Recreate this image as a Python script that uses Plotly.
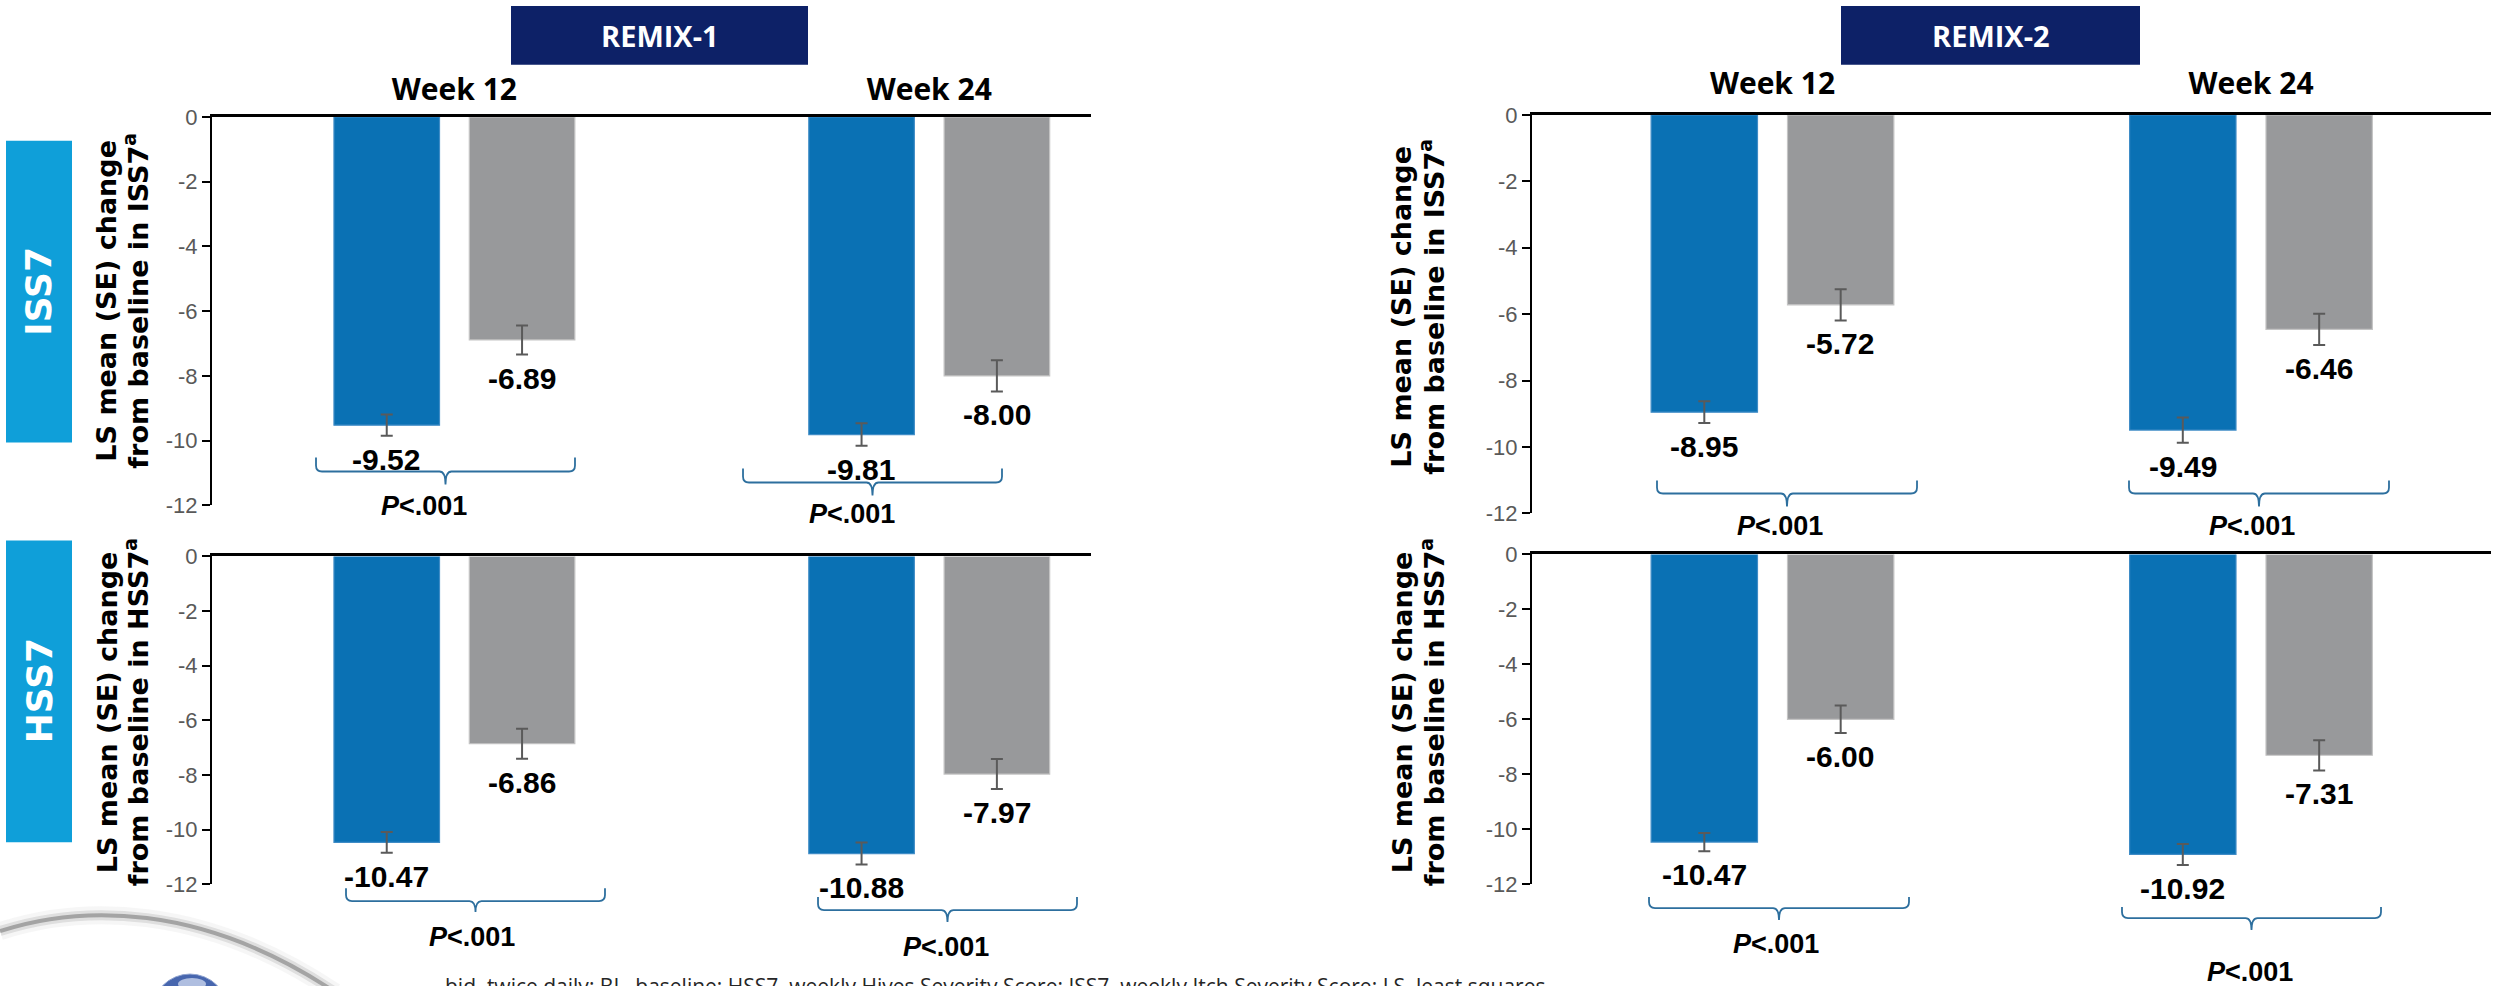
import plotly.graph_objects as go

W, H = 2504, 986

# ---------------- data ----------------
weeks = ["Week 12", "Week 24"]
y_tickvals = [0, -2, -4, -6, -8, -10, -12]
y_ticktext = ["0", "-2", "-4", "-6", "-8", "-10", "-12"]

remix1_iss7_remi = [-9.52, -9.81]
remix1_iss7_remi_se = [0.33, 0.35]
remix1_iss7_pbo = [-6.89, -8.00]
remix1_iss7_pbo_se = [0.45, 0.48]

remix1_hss7_remi = [-10.47, -10.88]
remix1_hss7_remi_se = [0.38, 0.40]
remix1_hss7_pbo = [-6.86, -7.97]
remix1_hss7_pbo_se = [0.55, 0.55]

remix2_iss7_remi = [-8.95, -9.49]
remix2_iss7_remi_se = [0.33, 0.38]
remix2_iss7_pbo = [-5.72, -6.46]
remix2_iss7_pbo_se = [0.47, 0.47]

remix2_hss7_remi = [-10.47, -10.92]
remix2_hss7_remi_se = [0.33, 0.38]
remix2_hss7_pbo = [-6.00, -7.31]
remix2_hss7_pbo_se = [0.50, 0.55]

p_text = ["P<.001", "P<.001"]
study_labels = ["REMIX-1", "REMIX-2"]
row_labels = ["ISS7", "HSS7"]
footnote = ("bid, twice daily; BL, baseline; HSS7, weekly Hives Severity Score; "
            "ISS7, weekly Itch Severity Score; LS, least squares.")

# ---------------- style ----------------
BLUE = "#0A71B4"
GRAY = "#98999B"
ERR = "#5A5A5A"
NAVY = "#0D2167"
CYAN = "#0F9FD9"
BRACKET = "#2D6F9E"
ARIAL = "Arial, Liberation Sans, sans-serif"
OPEN = "Open Sans, sans-serif"
WIDE = "DejaVu Sans, Verdana, sans-serif"


def px(x):
    return x / W


def py(y):
    # layout position (in target pixels from top) -> paper fraction
    yy = (y - 11.1) / 0.9755
    return 1 - yy / H


panels = [
    dict(sfx="", xdom=(212, 1091), ydom=(116, 505), xr=(-0.5105, 1.3407),
         remi=remix1_iss7_remi, remi_se=remix1_iss7_remi_se,
         pbo=remix1_iss7_pbo, pbo_se=remix1_iss7_pbo_se, weeks=True, standoff=2,
         title=("LS mean (SE) change", "from baseline in ISS7<sup>a</sup>"),
         tx=(107, 136), ty=300,
         brackets=[dict(x0=316, x1=575, yt=457, yh=471, yp=484, pxc=424, pyc=506),
                   dict(x0=743, x1=1002, yt=468, yh=482, yp=495, pxc=852, pyc=514)]),
    dict(sfx="2", xdom=(1532, 2491), ydom=(114, 513), xr=(-0.5026, 1.5016),
         remi=remix2_iss7_remi, remi_se=remix2_iss7_remi_se,
         pbo=remix2_iss7_pbo, pbo_se=remix2_iss7_pbo_se, weeks=True, standoff=6,
         title=("LS mean (SE) change", "from baseline in ISS7<sup>a</sup>"),
         tx=(1402, 1432), ty=306,
         brackets=[dict(x0=1657, x1=1917, yt=480, yh=493, yp=506, pxc=1780, pyc=526),
                   dict(x0=2129, x1=2389, yt=480, yh=493, yp=506, pxc=2252, pyc=526)]),
    dict(sfx="3", xdom=(212, 1091), ydom=(556, 884), xr=(-0.5105, 1.3407),
         remi=remix1_hss7_remi, remi_se=remix1_hss7_remi_se,
         pbo=remix1_hss7_pbo, pbo_se=remix1_hss7_pbo_se, weeks=False, standoff=2,
         title=("LS mean (SE) change", "from baseline in HSS7<sup>a</sup>"),
         tx=(107, 136), ty=712,
         brackets=[dict(x0=346, x1=605, yt=888, yh=901, yp=912, pxc=472, pyc=937),
                   dict(x0=818, x1=1077, yt=897, yh=910, yp=922, pxc=946, pyc=947)]),
    dict(sfx="4", xdom=(1532, 2491), ydom=(554, 884), xr=(-0.5026, 1.5016),
         remi=remix2_hss7_remi, remi_se=remix2_hss7_remi_se,
         pbo=remix2_hss7_pbo, pbo_se=remix2_hss7_pbo_se, weeks=False, standoff=6,
         title=("LS mean (SE) change", "from baseline in HSS7<sup>a</sup>"),
         tx=(1402, 1432), ty=712,
         brackets=[dict(x0=1649, x1=1909, yt=897, yh=908, yp=920, pxc=1776, pyc=944),
                   dict(x0=2122, x1=2381, yt=907, yh=918, yp=930, pxc=2250, pyc=972)]),
]

fig = go.Figure()
annotations = []
shapes = []

for p in panels:
    xa = "x" + p["sfx"]
    ya = "y" + p["sfx"]
    for vals, se, col, lcol, grp in [(p["remi"], p["remi_se"], BLUE, "#3F8CC6", "remi"),
                                     (p["pbo"], p["pbo_se"], GRAY, "#C4C4C4", "pbo")]:
        fig.add_trace(go.Bar(
            x=weeks, y=vals, xaxis=xa, yaxis=ya, offsetgroup=grp,
            marker=dict(color=col, line=dict(color=lcol, width=1.2)),
            error_y=dict(type="data", array=se, color=ERR, thickness=2, width=6),
            showlegend=False, hoverinfo="skip"))
        shift = -68 if grp == "remi" else 68
        for w, v, s in zip(weeks, vals, se):
            annotations.append(dict(
                x=w, y=v - s, xref=xa, yref=ya, xshift=shift, yshift=-5,
                text=f"<b>{v:.2f}</b>", showarrow=False, yanchor="top",
                xanchor="center", font=dict(family=ARIAL, size=30, color="black")))

    axx = dict(domain=[px(p["xdom"][0]), px(p["xdom"][1])], anchor=ya, side="top",
               type="category", categoryorder="array", categoryarray=weeks,
               range=list(p["xr"]), showline=True, linecolor="black", linewidth=2.5,
               ticks="", showgrid=False, zeroline=False,
               showticklabels=p["weeks"], ticklabelstandoff=p["standoff"],
               tickfont=dict(family=OPEN, size=30, color="black"),
               tickvals=weeks, ticktext=[f"<b>{w}</b>" for w in weeks])
    axy = dict(domain=[py(p["ydom"][1]), py(p["ydom"][0])], anchor=xa,
               range=[-12, 0], tickvals=y_tickvals, ticktext=y_ticktext,
               showline=True, linecolor="black", linewidth=2,
               ticks="outside", ticklen=8, tickwidth=2, tickcolor="black",
               showgrid=False, zeroline=False,
               tickfont=dict(family=ARIAL, size=22, color="#595959"))
    fig.update_layout(**{"xaxis" + p["sfx"]: axx, "yaxis" + p["sfx"]: axy})

    # y-axis titles (two lines)
    for line, tx in zip(p["title"], p["tx"]):
        annotations.append(dict(
            x=px(tx), y=py(p["ty"]), xref="paper", yref="paper", text=f"<b>{line}</b>",
            textangle=-90, showarrow=False, xanchor="center", yanchor="middle",
            font=dict(family=WIDE, size=27, color="black")))

    # brackets + p-values
    for b, pt in zip(p["brackets"], p_text):
        x0, x1, yt, yh, yp = b["x0"], b["x1"], b["yt"], b["yh"], b["yp"]
        xc = (x0 + x1) / 2
        r = 6
        pts = [("M", x0, yt), ("L", x0, yh - r), ("Q", x0, yh, x0 + r, yh),
               ("L", xc - r, yh), ("Q", xc, yh, xc, yp), ("Q", xc, yh, xc + r, yh),
               ("L", x1 - r, yh), ("Q", x1, yh, x1, yh - r), ("L", x1, yt)]
        path = ""
        for seg in pts:
            cmd = seg[0]
            coords = seg[1:]
            s = " ".join(f"{px(coords[i]):.5f},{py(coords[i + 1]):.5f}"
                         for i in range(0, len(coords), 2))
            path += f"{cmd} {s} "
        shapes.append(dict(type="path", path=path, xref="paper", yref="paper",
                           line=dict(color=BRACKET, width=1.8)))
        annotations.append(dict(
            x=px(b["pxc"]), y=py(b["pyc"]), xref="paper", yref="paper",
            text="<b><i>P</i>&lt;.001</b>", showarrow=False,
            xanchor="center", yanchor="middle",
            font=dict(family=ARIAL, size=27, color="black")))

# study headers
for lab, (x0, x1) in zip(study_labels, [(511, 808), (1841, 2140)]):
    shapes.append(dict(type="rect", xref="paper", yref="paper",
                       x0=px(x0), x1=px(x1), y0=py(64), y1=py(5),
                       fillcolor=NAVY, line=dict(width=0)))
    annotations.append(dict(x=px((x0 + x1) / 2), y=py(35), xref="paper", yref="paper",
                            xanchor="center", yanchor="middle",
                            text=f"<b>{lab}</b>", showarrow=False,
                            font=dict(family=OPEN, size=29, color="white")))

# row labels
for lab, (y0, y1) in zip(row_labels, [(140, 442), (540, 842)]):
    shapes.append(dict(type="rect", xref="paper", yref="paper",
                       x0=px(6), x1=px(72), y0=py(y1), y1=py(y0),
                       fillcolor=CYAN, line=dict(width=0)))
    annotations.append(dict(x=px(39), y=py((y0 + y1) / 2), xref="paper", yref="paper",
                            xanchor="center", yanchor="middle",
                            text=f"<b>{lab}</b>", showarrow=False, textangle=-90,
                            font=dict(family=WIDE, size=36, color="white")))

# footnote
annotations.append(dict(x=px(443), y=py(970), xref="paper", yref="paper",
                        text=footnote, showarrow=False, xanchor="left", yanchor="top",
                        font=dict(family=OPEN, size=21, color="#262626")))

# decorative logo swoosh and globe (bottom-left)
arc = (f"M {px(0)},{py(931)} C {px(80)},{py(905)} {px(200)},{py(902)} "
       f"{px(335)},{py(992)}")
for wdt, colr in [(18, "rgba(170,170,170,0.10)"), (10, "rgba(140,140,140,0.22)"),
                  (4, "rgba(115,115,115,0.55)")]:
    shapes.append(dict(type="path", path=arc, xref="paper", yref="paper",
                       line=dict(color=colr, width=wdt)))
shapes.append(dict(type="circle", xref="paper", yref="paper",
                   x0=px(152), x1=px(228), y0=py(1050), y1=py(974),
                   fillcolor="#4766AE", line=dict(color="#8FA3D0", width=1)))
shapes.append(dict(type="circle", xref="paper", yref="paper",
                   x0=px(178), x1=px(206), y0=py(990), y1=py(978),
                   fillcolor="rgba(220,228,245,0.7)", line=dict(width=0)))

fig.update_layout(
    width=W, height=H, autosize=False,
    margin=dict(l=0, r=0, t=0, b=0, pad=0),
    paper_bgcolor="white", plot_bgcolor="white",
    barmode="group", bargap=0.43, bargroupgap=0.22,
    showlegend=False,
    annotations=annotations, shapes=shapes,
)

fig.write_html("out.html")
